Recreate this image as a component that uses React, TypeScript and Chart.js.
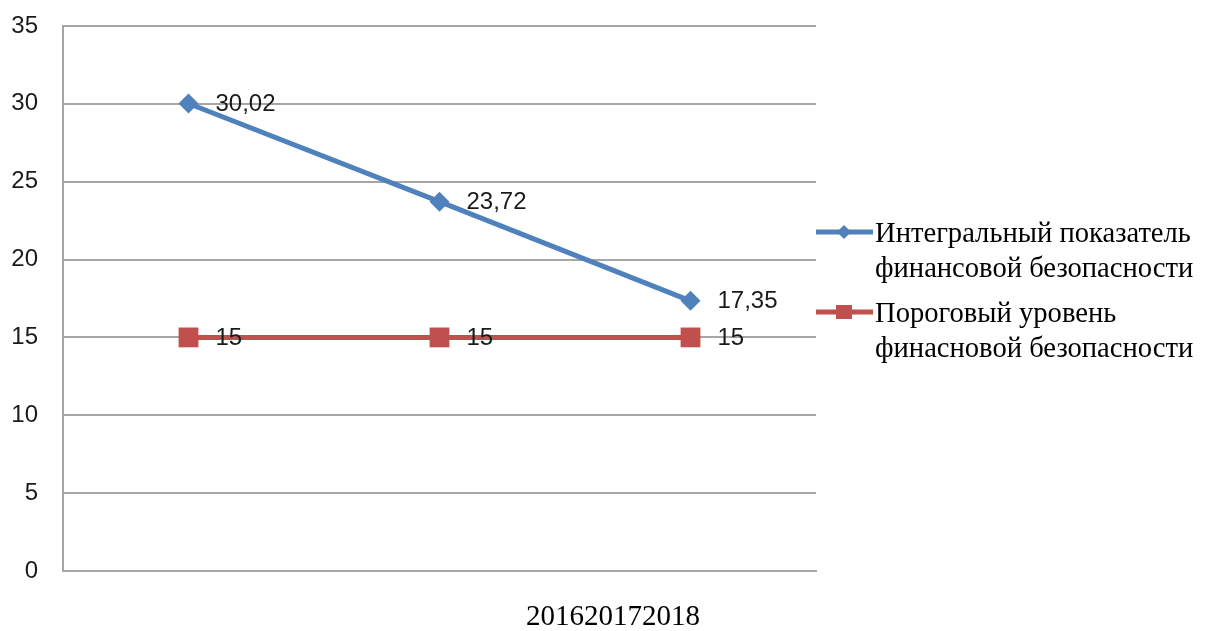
import React, { useEffect, useRef } from "react";
import { Chart, registerables } from "chart.js";

Chart.register(...registerables);

const categories = ["2016", "2017", "2018"];
const integralValues = [30.02, 23.72, 17.35];
const thresholdValues = [15, 15, 15];
const seriesNames = [
  ["Интегральный показатель", "финансовой безопасности"],
  ["Пороговый уровень", "финасновой безопасности"],
];
const yTicks = [0, 5, 10, 15, 20, 25, 30, 35];
const xTitle = categories.join("");

const BLUE = "#4F81BD";
const RED = "#C0504D";
const GRID = "#a6a6a6";

const fmt = (v: number) => String(v).replace(".", ",");

const labelsPlugin = {
  id: "valueLabels",
  afterDatasetsDraw(chart: any) {
    const ctx = chart.ctx;
    ctx.save();
    ctx.font = "24px 'Liberation Sans', Arial, sans-serif";
    ctx.fillStyle = "#1a1a1a";
    ctx.textAlign = "left";
    ctx.textBaseline = "middle";
    chart.data.datasets.forEach((ds: any, i: number) => {
      const meta = chart.getDatasetMeta(i);
      meta.data.forEach((pt: any, j: number) => {
        ctx.fillText(fmt(ds.data[j]), pt.x + 27, pt.y + 1);
      });
    });
    ctx.restore();
  },
};

const legendPlugin = {
  id: "customLegend",
  afterDraw(chart: any) {
    const ctx = chart.ctx;
    const x0 = chart.chartArea.right;
    const items = [
      { color: BLUE, style: "diamond", y: 232, name: seriesNames[0] },
      { color: RED, style: "square", y: 312, name: seriesNames[1] },
    ];
    ctx.save();
    items.forEach((it) => {
      ctx.strokeStyle = it.color;
      ctx.lineWidth = 5;
      ctx.beginPath();
      ctx.moveTo(x0, it.y);
      ctx.lineTo(x0 + 57, it.y);
      ctx.stroke();
      ctx.fillStyle = it.color;
      const cx = x0 + 28;
      if (it.style === "diamond") {
        ctx.beginPath();
        ctx.moveTo(cx, it.y - 7);
        ctx.lineTo(cx + 7, it.y);
        ctx.lineTo(cx, it.y + 7);
        ctx.lineTo(cx - 7, it.y);
        ctx.closePath();
        ctx.fill();
      } else {
        ctx.fillRect(cx - 8, it.y - 7, 16, 14);
      }
      ctx.fillStyle = "#000";
      ctx.font = "28.6px 'Liberation Serif', 'Times New Roman', serif";
      ctx.textAlign = "left";
      ctx.textBaseline = "middle";
      it.name.forEach((line, k) => {
        ctx.fillText(line, x0 + 59, it.y + 2 + k * 35);
      });
    });
    ctx.fillStyle = "#000";
    ctx.font = "29px 'Liberation Serif', 'Times New Roman', serif";
    ctx.textAlign = "center";
    ctx.textBaseline = "middle";
    ctx.fillText(xTitle, 613, 617);
    ctx.restore();
  },
};

export default function App() {
  const ref = useRef<HTMLCanvasElement>(null);
  useEffect(() => {
    document.body.style.margin = "0";
    const chart = new Chart(ref.current!, {
      type: "line",
      data: {
        labels: categories,
        datasets: [
          {
            label: seriesNames[0].join(" "),
            data: integralValues,
            borderColor: BLUE,
            backgroundColor: BLUE,
            borderWidth: 5,
            pointStyle: "rectRot",
            pointRadius: 10,
            pointHoverRadius: 10,
            pointBorderWidth: 0,
          },
          {
            label: seriesNames[1].join(" "),
            data: thresholdValues,
            borderColor: RED,
            backgroundColor: RED,
            borderWidth: 5,
            pointStyle: "rect",
            pointRadius: 14,
            pointHoverRadius: 14,
            pointBorderWidth: 0,
          },
        ],
      },
      options: {
        animation: false,
        responsive: false,
        events: [],
        layout: { padding: { top: 26, right: 390, left: 0, bottom: 0 } },
        plugins: {
          legend: { display: false },
          tooltip: { enabled: false },
          title: { display: false },
        },
        scales: {
          x: {
            offset: true,
            grid: { display: false, drawTicks: false },
            border: { display: true, color: GRID, width: 2 },
            ticks: { display: false },
            afterFit: (s: any) => {
              s.height = 60;
              s.paddingLeft = 0;
              s.paddingRight = 0;
            },
          },
          y: {
            min: 0,
            max: 35,
            afterBuildTicks: (s: any) => {
              s.ticks = yTicks.map((v) => ({ value: v }));
            },
            grid: { color: GRID, lineWidth: 2, drawTicks: false },
            border: { display: true, color: GRID, width: 2 },
            ticks: {
              padding: 25,
              color: "#1a1a1a",
              font: { family: "'Liberation Sans', Arial, sans-serif", size: 24 },
            },
            afterFit: (s: any) => {
              s.width = 63;
              s.paddingTop = 0;
              s.paddingBottom = 0;
            },
          },
        },
      },
      plugins: [labelsPlugin, legendPlugin],
    });
    return () => chart.destroy();
  }, []);
  return <canvas ref={ref} width={1206} height={631} style={{ display: "block" }} />;
}
